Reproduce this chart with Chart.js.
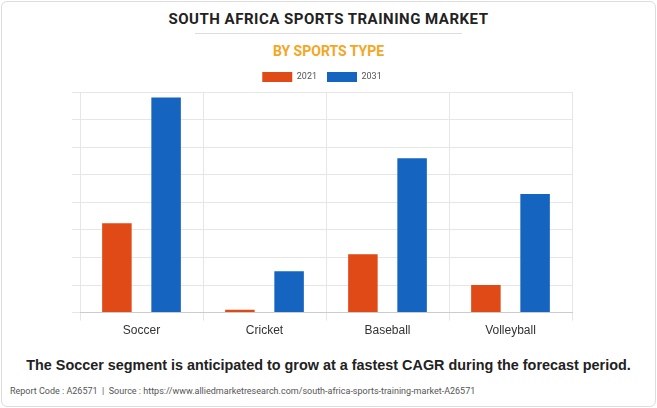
<!DOCTYPE html>
<html>
<head>
<meta charset="utf-8">
<script src="https://cdn.jsdelivr.net/npm/chart.js@4"></script>
<style>
  body { margin: 0; background: #fff; font-family: Roboto, Arial, sans-serif; }
  #frame { position: absolute; left: 1px; top: 1px; width: 653px; height: 404px; border: 1px solid #ddd; border-radius: 6px; }
  #title { position: absolute; top: 10px; width: 657px; text-align: center; font-weight: bold; font-size: 15px; letter-spacing: 0.5px; color: #222; }
  #rule { position: absolute; top: 33px; left: 195px; width: 267px; border-top: 1px solid #ddd; }
  #sub { position: absolute; top: 43px; width: 657px; text-align: center; font-weight: bold; font-size: 14px; color: #f5a623; }
  #wrap { position: absolute; left: 0; top: 62px; width: 657px; height: 279px; }
  #note { position: absolute; top: 357px; width: 657px; text-align: center; font-weight: bold; font-size: 14.4px; color: #222; font-family: "Liberation Sans", Arial, sans-serif; }
  #src { position: absolute; top: 386px; left: 10px; font-size: 9px; color: #555; }
</style>
</head>
<body>
<div id="frame"></div>
<div id="title">SOUTH AFRICA SPORTS TRAINING MARKET</div>
<div id="rule"></div>
<div id="sub">BY SPORTS TYPE</div>
<div id="wrap"><canvas id="c"></canvas></div>
<div id="note">The Soccer segment is anticipated to grow at a fastest CAGR during the forecast period.</div>
<div id="src">Report Code : A26571 &nbsp;|&nbsp; Source : https://www.alliedmarketresearch.com/south-africa-sports-training-market-A26571</div>
<script>
const categories = ['Soccer', 'Cricket', 'Baseball', 'Volleyball'];
const values2021 = [3.24, 0.1, 2.12, 1.0];
const values2031 = [7.8, 1.5, 5.6, 4.3];

new Chart(document.getElementById('c'), {
  type: 'bar',
  data: {
    labels: categories,
    datasets: [
      { label: '2021', data: values2021, backgroundColor: '#e04a16', categoryPercentage: 0.8, barPercentage: 0.6 },
      { label: '2031', data: values2031, backgroundColor: '#1565c0', categoryPercentage: 0.8, barPercentage: 0.6 }
    ]
  },
  options: {
    responsive: true,
    maintainAspectRatio: false,
    animation: false,
    layout: { padding: { left: 72, right: 85, top: 0, bottom: 0 } },
    plugins: {
      legend: {
        position: 'top',
        labels: { boxWidth: 30, boxHeight: 10, font: { size: 9, family: 'Roboto' }, color: '#555' }
      },
      tooltip: { enabled: false }
    },
    scales: {
      x: {
        grid: { color: '#e6e6e6', offset: true },
        border: { color: '#ccc' },
        ticks: { font: { size: 12, family: 'Liberation Sans' }, color: '#333' }
      },
      y: {
        min: 0, max: 8,
        ticks: { display: false, stepSize: 1 },
        grid: { color: '#e6e6e6' },
        border: { display: false }
      }
    }
  }
});
</script>
</body>
</html>
